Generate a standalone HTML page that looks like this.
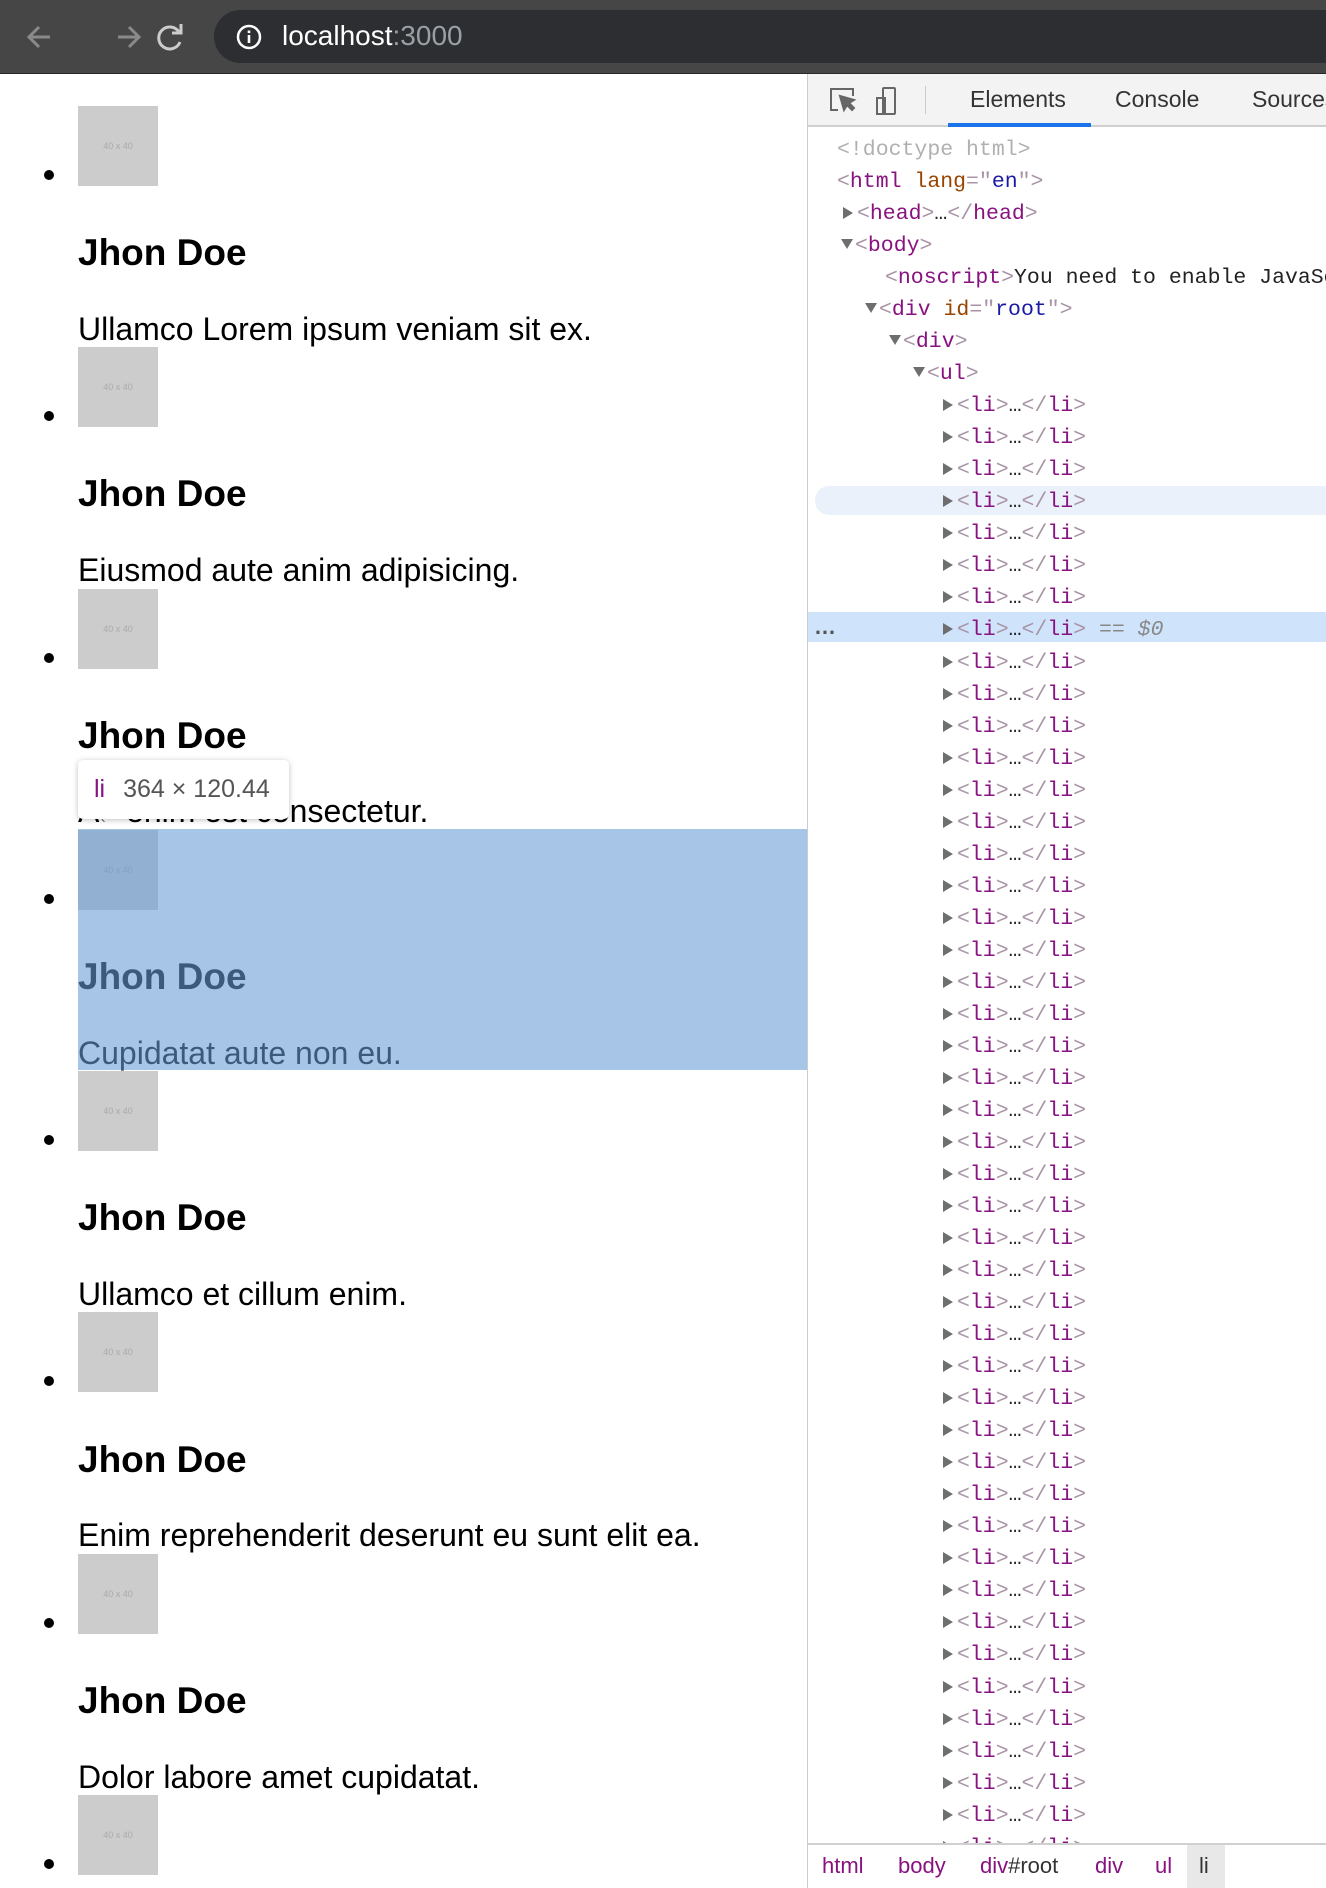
<!DOCTYPE html>
<html><head><meta charset="utf-8">
<style>
*{margin:0;padding:0;box-sizing:border-box}
body{width:1326px;height:1888px;overflow:hidden;background:#fff;font-family:"Liberation Sans",Arial,sans-serif;position:relative}
.bar{position:absolute;left:0;top:0;width:1326px;height:74px;background:#464646;border-bottom:1px solid #2a2a2a}
.pill{position:absolute;left:214px;top:10px;width:1140px;height:53px;border-radius:27px;background:#2c2e31}
.url{position:absolute;left:282px;top:19px;font-size:28px;color:#fff;line-height:34px}
.url span{color:#9aa0a6}
.page{position:absolute;left:0;top:74px;width:807px;height:1814px;overflow:hidden}
.img{position:absolute;left:78px;width:80px;height:80px;background:#ccc;color:#aaa;font-size:9px;text-align:center;line-height:80px}
.bul{position:absolute;left:44px;width:10px;height:10px;border-radius:50%;background:#000}
.h{position:absolute;left:78px;font-size:37px;font-weight:bold;line-height:40px;color:#000}
.p{position:absolute;left:78px;font-size:32px;line-height:34px;color:#000;white-space:nowrap}
.ov{position:absolute;left:78px;top:755px;width:729px;height:241px;background:rgba(104,155,212,0.58)}
.tip{position:absolute;left:78px;top:686px;width:211px;height:59px;background:#fff;border-radius:5px;box-shadow:0 1px 6px rgba(0,0,0,.25);font-size:25px;line-height:59px;color:#555;padding-left:16px}
.tip b{color:#881280;font-weight:normal;margin-right:18px}
.tipa{position:absolute;left:101px;top:744px;width:0;height:0;border-left:11px solid transparent;border-right:11px solid transparent;border-top:11px solid #fff}
.dev{position:absolute;left:807px;top:74px;width:519px;height:1814px;border-left:1px solid #ccc;background:#fff;overflow:hidden}
.tb{position:absolute;left:0;top:0;width:519px;height:53px;background:#f3f3f3;border-bottom:2px solid #d0d0d0}
.tab{position:absolute;top:12px;font-size:23px;color:#333}
.ul2{position:absolute;left:140px;top:49px;width:143px;height:4px;background:#1a73e8}
.tree{position:absolute;left:0;top:60px;width:519px;font-family:"Liberation Mono",monospace;font-size:21.5px;line-height:32.04px;white-space:nowrap}
.r{height:32.04px;position:relative;color:#222}
.t{color:#881280}.g{color:#a894a6}.an{color:#994500}.av{color:#1a1aa6}
.ar{display:inline-block;width:0;height:0;border-top:6px solid transparent;border-bottom:6px solid transparent;border-left:10px solid #6e6e6e;margin-right:4px;vertical-align:0}
.ad{display:inline-block;width:0;height:0;border-left:6px solid transparent;border-right:6px solid transparent;border-top:10px solid #6e6e6e;margin-right:2px;vertical-align:2px}
.bc{position:absolute;left:0;top:1769px;width:519px;height:45px;border-top:2px solid #d0d0d0;background:#fff;font-size:22px;color:#881280}
.bc span{position:absolute;top:8px}
</style></head><body>
<div class="bar">
<svg style="position:absolute;left:26px;top:20px" width="160" height="34" viewBox="0 0 160 34" fill="none" stroke-width="3">
<path d="M24 17H4M13 7L3 17l10 10" stroke="#8a8a8a"/>
<path d="M92 17h20M103 7l10 10-10 10" stroke="#8a8a8a"/>
<path d="M153 12A11 11 0 1 0 154 22" stroke="#ccc"/>
<path d="M155 4v9h-9" stroke="#ccc"/>
</svg>
<div class="pill"></div>
<svg style="position:absolute;left:236px;top:24px" width="26" height="26"><circle cx="13" cy="13" r="11" stroke="#fff" stroke-width="2.5" fill="none"/><rect x="11.7" y="11" width="2.6" height="8" fill="#fff"/><rect x="11.7" y="6.5" width="2.6" height="2.6" fill="#fff"/></svg>
<div class="url">localhost<span>:3000</span></div>
</div>

<div class="page">
<div class="img" style="top:32px">40 x 40</div><div class="bul" style="top:96px"></div>
<div class="h" style="top:159px">Jhon Doe</div><div class="p" style="top:238px">Ullamco Lorem ipsum veniam sit ex.</div>
<div class="img" style="top:273px">40 x 40</div><div class="bul" style="top:337px"></div>
<div class="h" style="top:400px">Jhon Doe</div><div class="p" style="top:479px">Eiusmod aute anim adipisicing.</div>
<div class="img" style="top:515px">40 x 40</div><div class="bul" style="top:579px"></div>
<div class="h" style="top:642px">Jhon Doe</div><div class="p" style="top:720px">Ad enim est consectetur.</div>
<div class="img" style="top:756px">40 x 40</div><div class="bul" style="top:820px"></div>
<div class="h" style="top:883px">Jhon Doe</div><div class="p" style="top:962px">Cupidatat aute non eu.</div>
<div class="img" style="top:997px">40 x 40</div><div class="bul" style="top:1061px"></div>
<div class="h" style="top:1124px">Jhon Doe</div><div class="p" style="top:1203px">Ullamco et cillum enim.</div>
<div class="img" style="top:1238px">40 x 40</div><div class="bul" style="top:1302px"></div>
<div class="h" style="top:1366px">Jhon Doe</div><div class="p" style="top:1444px">Enim reprehenderit deserunt eu sunt elit ea.</div>
<div class="img" style="top:1480px">40 x 40</div><div class="bul" style="top:1544px"></div>
<div class="h" style="top:1607px">Jhon Doe</div><div class="p" style="top:1686px">Dolor labore amet cupidatat.</div>
<div class="img" style="top:1721px">40 x 40</div><div class="bul" style="top:1785px"></div>
<div class="ov"></div>
<div class="tipa"></div>
<div class="tip"><b>li</b>364 × 120.44</div>
</div>

<div class="dev">
<div class="tb">
<svg style="position:absolute;left:20px;top:12px" width="70" height="30" fill="none" stroke="#666" stroke-width="2"><path d="M10 24H3V3h22v7"/><path d="M12 10l4 14 3-5 5 5 2-2-5-5 5-3z" fill="#666"/><rect x="55" y="2" width="12" height="26" rx="1"/><rect x="49" y="12" width="8" height="16"/></svg>
<div style="position:absolute;left:117px;top:12px;width:1px;height:28px;background:#ccc"></div>
<div class="tab" style="left:162px">Elements</div>
<div class="tab" style="left:307px">Console</div>
<div class="tab" style="left:444px">Sources</div>
<div class="ul2"></div>
</div>
<div style="position:absolute;left:7px;top:412px;width:520px;height:29px;background:#ebf1fa;border-radius:14px 0 0 14px"></div>
<div style="position:absolute;left:0;top:538px;width:519px;height:30px;background:#cfe4fb"></div>
<div class="tree">
<div class="r" style="padding-left:29px;color:#b0b0b0">&lt;!doctype html&gt;</div>
<div class="r" style="padding-left:29px"><span class="g">&lt;</span><span class="t">html</span> <span class="an">lang</span><span class="g">="</span><span class="av">en</span><span class="g">"&gt;</span></div>
<div class="r" style="padding-left:35px"><i class="ar"></i><span class="g">&lt;</span><span class="t">head</span><span class="g">&gt;</span>…<span class="g">&lt;/</span><span class="t">head</span><span class="g">&gt;</span></div>
<div class="r" style="padding-left:33px"><i class="ad"></i><span class="g">&lt;</span><span class="t">body</span><span class="g">&gt;</span></div>
<div class="r" style="padding-left:77px"><span class="g">&lt;</span><span class="t">noscript</span><span class="g">&gt;</span>You need to enable JavaScript</div>
<div class="r" style="padding-left:57px"><i class="ad"></i><span class="g">&lt;</span><span class="t">div</span> <span class="an">id</span><span class="g">="</span><span class="av">root</span><span class="g">"&gt;</span></div>
<div class="r" style="padding-left:81px"><i class="ad"></i><span class="g">&lt;</span><span class="t">div</span><span class="g">&gt;</span></div>
<div class="r" style="padding-left:105px"><i class="ad"></i><span class="g">&lt;</span><span class="t">ul</span><span class="g">&gt;</span></div>
<div id="lis"></div>
</div>
<div style="position:absolute;left:6px;top:548px;font-size:22px;line-height:10px;color:#555;font-weight:bold">…</div>
<div class="bc">
<span style="left:14px">html</span><span style="left:90px">body</span><span style="left:172px">div<span style="position:static;color:#333">#root</span></span><span style="left:287px">div</span><span style="left:347px">ul</span>
<div style="position:absolute;left:379px;top:0;width:38px;height:43px;background:#e8e8e8"></div><span style="left:391px;color:#333">li</span>
</div>
</div>
<script>
var h='';for(var i=0;i<46;i++){h+='<div class="r" style="padding-left:135px"><i class="ar"></i><span class="g">&lt;</span><span class="t">li</span><span class="g">&gt;</span>…<span class="g">&lt;/</span><span class="t">li</span><span class="g">&gt;</span>'+(i==7?' <span style="color:#888;font-style:italic">== $0</span>':'')+'</div>';}
document.getElementById('lis').innerHTML=h;
</script>
</body></html>
